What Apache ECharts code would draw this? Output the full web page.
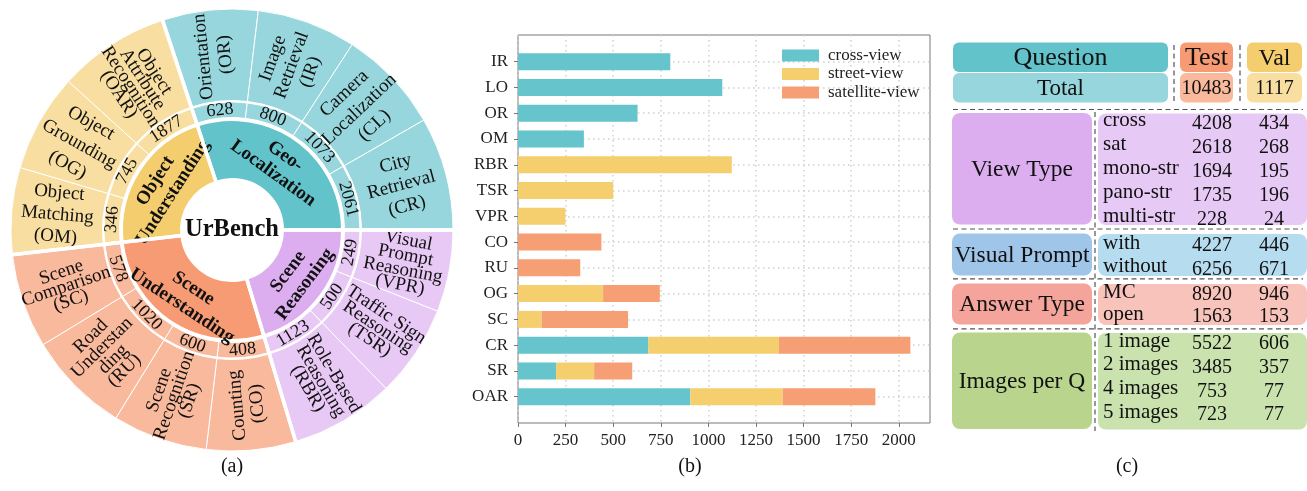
<!DOCTYPE html>
<html><head><meta charset="utf-8">
<script src="https://cdn.jsdelivr.net/npm/echarts@6/dist/echarts.min.js"></script>
<style>html,body{margin:0;padding:0;background:#fff}#c{width:1307px;height:491px}</style>
</head><body><div id="c"></div>
<script>
// ---------------- DATA ----------------
const rootName = 'UrBench';
const categoryNames = ['Geo-\nLocalization', 'Scene\nReasoning', 'Scene\nUnderstanding', 'Object\nUnderstanding'];
const taskNames = [
  ['Orientation\n(OR)', 'Image\nRetrieval\n(IR)', 'Camera\nLocalization\n(CL)', 'City\nRetrieval\n(CR)'],
  ['Visual\nPrompt\nReasoning\n(VPR)', 'Traffic Sign\nReasoning\n(TSR)', 'Role-Based\nReasoning\n(RBR)'],
  ['Counting\n(CO)', 'Scene\nRecognition\n(SR)', 'Road\nUnderstan\nding\n(RU)', 'Scene\nComparison\n(SC)'],
  ['Object\nMatching\n(OM)', 'Object\nGrounding\n(OG)', 'Object\nAttribute\nRecognition\n(OAR)']
];
const taskCounts = [[628, 800, 1073, 2061], [249, 500, 1123], [408, 600, 1020, 578], [346, 745, 1877]];

const barCategories = ['IR', 'LO', 'OR', 'OM', 'RBR', 'TSR', 'VPR', 'CO', 'RU', 'OG', 'SC', 'CR', 'SR', 'OAR'];
const viewNames = ['cross-view', 'street-view', 'satellite-view'];
const crossView     = [800, 1073, 628, 346, 0, 0, 0, 0, 0, 0, 0, 685, 200, 905];
const streetView    = [0, 0, 0, 0, 1123, 500, 249, 0, 0, 447, 124, 686, 200, 485];
const satelliteView = [0, 0, 0, 0, 0, 0, 0, 438, 327, 298, 454, 690, 200, 487];
const xTickValues = [0, 250, 500, 750, 1000, 1250, 1500, 1750, 2000];

const headerCols = ['Question', 'Test', 'Val'];
const totalRow = ['Total', 10483, 1117];
const groupNames = ['View Type', 'Visual Prompt', 'Answer Type', 'Images per Q'];
const groupRowLabels = [['cross', 'sat', 'mono-str', 'pano-str', 'multi-str'], ['with', 'without'], ['MC', 'open'], ['1 image', '2 images', '4 images', '5 images']];
const groupTest = [[4208, 2618, 1694, 1735, 228], [4227, 6256], [8920, 1563], [5522, 3485, 753, 723]];
const groupVal = [[434, 268, 195, 196, 24], [446, 671], [946, 153], [606, 357, 77, 77]];
const panelLabels = ['(a)', '(b)', '(c)'];

// ---------------- STYLE ----------------
const FONT = '"Liberation Serif","Times New Roman",serif';
const catDark = ['#63c3cb', '#dcaef0', '#f69b73', '#f4cd6e'];
const catLight = ['#97d6dc', '#e8c9f5', '#f9b99c', '#f8dea1'];
const barColors = ['#65c4cc', '#f5cf6e', '#f69e74'];
const nameLH = [[22, 20, 22, 22], [15, 15, 15], [20, 16, 16, 15], [22, 24, 14]];

// angles proportional to log(count)
const weight = v => Math.log(v);
const catWeights = taskCounts.map(a => a.reduce((s, v) => s + weight(v), 0));
const totalW = catWeights.reduce((s, v) => s + v, 0);
const startAngle = catWeights[0] / totalW * 360;

function tangentialRot(theta) { let r = theta - 90; while (r <= -90) r += 180; while (r > 90) r -= 180; return r; }
function radialRot(theta) { let r = theta; while (r < -84.5) r += 180; while (r >= 96.5) r -= 180; return r; }

let acc = startAngle;
const sbData = [{
  name: rootName,
  itemStyle: { color: '#fff', borderWidth: 0 },
  label: { show: false },
  children: categoryNames.map((cn, i) => {
    const catSpan = catWeights[i] / totalW * 360;
    const catMid = acc - catSpan / 2;
    const node = {
      name: cn,
      itemStyle: { color: catDark[i] },
      label: { rotate: tangentialRot(catMid) },
      children: taskCounts[i].map((cnt, j) => {
        const span = weight(cnt) / totalW * 360;
        const mid = acc - span / 2;
        acc -= span;
        return {
          name: String(cnt),
          itemStyle: { color: catLight[i] },
          label: { rotate: tangentialRot(mid) },
          children: [{ name: taskNames[i][j], value: weight(cnt), itemStyle: { color: catLight[i] },
            label: { lineHeight: nameLH[i][j], rotate: radialRot(mid) } }]
        };
      })
    };
    return node;
  })
}];

const chart = echarts.init(document.getElementById('c'));
const CX = 232, CY = 230;

// ---------------- TABLE (panel c) ----------------
const g = [];
function rect(x, y, w, h, color, r) { g.push({ type: 'rect', silent: true, shape: { x: x, y: y, width: w, height: h, r: r }, style: { fill: color } }); }
function text(x, y, s, size, align, weight, z) {
  g.push({ type: 'text', silent: true, z: z || 0, x: x, y: y, style: { text: String(s), fontFamily: FONT, fontSize: size, fontWeight: weight || 'normal', fill: '#111', align: align, verticalAlign: 'middle' } });
}
function dash(x1, y1, x2, y2) { g.push({ type: 'line', silent: true, shape: { x1: x1, y1: y1, x2: x2, y2: y2 }, style: { stroke: '#555', lineDash: [5, 3.5], lineWidth: 1.2 } }); }

const L = { qx: 953, qw: 215, tx: 1180, tw: 53, vx: 1247, vw: 55, hy: 42.5, hh: 30,
  lx: 952, lw: 140, rx: 1098, rw: 209, sep: 1095, testC: 1212, valC: 1274, labX: 1103 };
const headColors = [['#63c3cb', '#97d6dc'], ['#f69b73', '#f9b99c'], ['#f4cd6e', '#f8dea1']];
const headX = [[L.qx, L.qw], [L.tx, L.tw], [L.vx, L.vw]];
const headSize = [[26, 23], [26, 20], [24, 20]];
headerCols.forEach((h, k) => {
  const [x, w] = headX[k];
  rect(x, L.hy, w, L.hh - 0.5, headColors[k][0], 6);
  rect(x, L.hy + L.hh + 0.5, w, L.hh - 0.5, headColors[k][1], 6);
  text(x + w / 2, L.hy + L.hh / 2 + 1, h, headSize[k][0], 'center');
  text(x + w / 2, L.hy + L.hh * 1.5 + 1, totalRow[k], headSize[k][1], 'center');
});
dash(1174, 45, 1174, 101);
dash(1240, 45, 1240, 101);

const groupLayout = [
  { top: 113, bottom: 224.5, row0: 123.5, step: 24 },
  { top: 233.5, bottom: 275.5, row0: 246, step: 23.5 },
  { top: 283.5, bottom: 324.5, row0: 295, step: 22 },
  { top: 332.5, bottom: 429, row0: 344, step: 23.7 }
];
const groupColors = [['#dcaef0', '#e7c9f5'], ['#9fc5e8', '#b6dcf0'], ['#f4a49a', '#f8c3ba'], ['#b8d48d', '#c9e2ae']];
const hDashY = [109.5, 229, 278.8, 328.8];
hDashY.forEach(y => dash(953, y, 1303, y));
dash(L.sep, 112, L.sep, 431);
groupNames.forEach((gn, k) => {
  const gl = groupLayout[k];
  rect(L.lx, gl.top, L.lw, gl.bottom - gl.top, groupColors[k][0], 8);
  rect(L.rx, gl.top + 0.5, L.rw, gl.bottom - gl.top, groupColors[k][1], 8);
  text(L.lx + L.lw / 2, (gl.top + gl.bottom) / 2 + 1, gn, 23.5, 'center');
  groupRowLabels[k].forEach((rl, r) => {
    const y = gl.row0 + r * gl.step;
    text(L.labX, y - 3, rl, 21, 'left');
    text(L.testC, y, groupTest[k][r], 20, 'center');
    text(L.valC, y, groupVal[k][r], 20, 'center');
  });
});
const panelX = [232, 690, 1127];
panelLabels.forEach((p, k) => text(panelX[k], 467, p, 20, 'center'));
text(CX, CY, rootName, 24.5, 'center', 'bold', 100);

// ---------------- OPTION ----------------
const gridLine = { show: true, lineStyle: { color: '#cfcfcf', type: [1.5, 3.5], width: 1.5 } };
const option = {
  animation: false,
  backgroundColor: '#fff',
  legend: {
    data: viewNames, orient: 'vertical', left: 777, top: 41.5, itemWidth: 37, itemHeight: 12, itemGap: 0.5, icon: 'rect',
    textStyle: { fontSize: 17, lineHeight: 18, fontFamily: FONT, color: '#222', padding: [0, 0, 0, 4] }
  },
  grid: [
    { left: 518, top: 61.7, width: 412, height: 335 },
    { left: 518, top: 35, width: 412, height: 388, show: true, borderColor: '#777', borderWidth: 1, backgroundColor: 'transparent' }
  ],
  xAxis: [
    { gridIndex: 0, type: 'value', min: 0, max: 2164, show: false },
    { gridIndex: 1, type: 'value', min: 0, max: 2164, interval: 250,
      axisLine: { show: false },
      axisTick: { show: true, length: 4, lineStyle: { color: '#777' }, customValues: xTickValues },
      axisLabel: { fontSize: 17, color: '#222', fontFamily: FONT, margin: 9, formatter: v => (v > 2000 ? '' : String(v)) },
      splitLine: gridLine }
  ],
  yAxis: [
    { gridIndex: 0, type: 'category', data: barCategories, inverse: true, boundaryGap: false,
      axisLine: { show: false },
      axisTick: { show: true, length: 4, lineStyle: { color: '#777' } },
      axisLabel: { fontSize: 17, color: '#222', fontFamily: FONT, margin: 10 },
      splitLine: gridLine },
    { gridIndex: 1, type: 'value', min: 0, max: 1, show: false }
  ],
  series: [
    {
      type: 'sunburst', center: [CX, CY], sort: null, startAngle: startAngle, nodeClick: false,
      data: sbData,
      label: { color: '#111', fontFamily: FONT, overflow: 'none' },
      itemStyle: { borderColor: '#fff', borderWidth: 1 },
      emphasis: { disabled: true },
      levels: [
        {},
        { r0: 0, r: 51, itemStyle: { borderWidth: 0 }, label: { show: false } },
        { r0: 51, r: 110, itemStyle: { borderWidth: 2 }, label: { fontSize: 19, fontWeight: 'bold', lineHeight: 21 } },
        { r0: 112.5, r: 128, itemStyle: { borderWidth: 1 }, label: { fontSize: 18 } },
        { r0: 129.5, r: 221, itemStyle: { borderWidth: 1 }, label: { fontSize: 19 } }
      ]
    },
    {
      type: 'pie', center: [CX, CY], radius: [48, 224], startAngle: startAngle, silent: true, z: 3,
      label: { show: false }, labelLine: { show: false },
      itemStyle: { color: 'rgba(0,0,0,0)', borderColor: '#fff', borderWidth: 3.5 },
      data: catWeights.map(v => ({ value: v }))
    }
  ].concat(viewNames.map((n, k) => ({
    type: 'bar', name: n, xAxisIndex: 0, yAxisIndex: 0, stack: 'views', barWidth: 17,
    itemStyle: { color: barColors[k] },
    data: [crossView, streetView, satelliteView][k]
  }))),
  graphic: { elements: g }
};
chart.setOption(option);
</script></body></html>
